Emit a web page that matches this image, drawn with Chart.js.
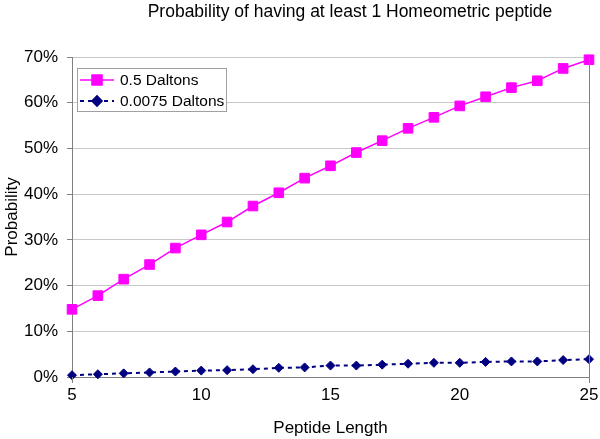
<!DOCTYPE html>
<html>
<head>
<meta charset="utf-8">
<script src="https://cdn.jsdelivr.net/npm/chart.js@4"></script>
<style>
  html, body { margin: 0; padding: 0; background: #fff; }
  #wrap { width: 600px; height: 439px; }
</style>
</head>
<body>
<div id="wrap"><canvas id="probChart" width="600" height="439"></canvas></div>
<script>
// Peptide length (x) and probability in percent (y)
const peptideLengths = [5, 6, 7, 8, 9, 10, 11, 12, 13, 14, 15, 16, 17, 18, 19, 20, 21, 22, 23, 24, 25];
const halfDalton = [14.8, 17.8, 21.4, 24.6, 28.2, 31.1, 33.9, 37.4, 40.3, 43.5, 46.2, 49.1, 51.7, 54.4, 56.8, 59.3, 61.3, 63.3, 64.8, 67.5, 69.4];
const smallDalton = [0.4, 0.6, 0.8, 1.0, 1.2, 1.4, 1.5, 1.7, 2.0, 2.1, 2.5, 2.5, 2.7, 2.9, 3.1, 3.1, 3.3, 3.4, 3.4, 3.7, 3.9];
const seriesNames = ['0.5 Daltons', '0.0075 Daltons'];
const yTicks = [0, 10, 20, 30, 40, 50, 60, 70];
const xTicks = [5, 10, 15, 20, 25];
const chartTitle = 'Probability of having at least 1 Homeometric peptide';

const FONT = "Arial, 'Liberation Sans', sans-serif";

// Title, right border, and the small legend box in the top-left corner
const extras = {
    id: 'extras',
    afterDraw(chart) {
        const ctx = chart.ctx;
        const area = chart.chartArea;
        ctx.save();

        // title
        ctx.fillStyle = '#000';
        ctx.font = '17.5px ' + FONT;
        ctx.textAlign = 'center';
        ctx.textBaseline = 'alphabetic';
        ctx.fillText(chartTitle, 350, 17);

        // right side of the plot frame + end tick marks
        ctx.strokeStyle = '#808080';
        ctx.lineWidth = 1;
        ctx.beginPath();
        ctx.moveTo(Math.round(area.right) + 0.5, area.top);
        ctx.lineTo(Math.round(area.right) + 0.5, area.bottom + 6);
        ctx.moveTo(Math.round(area.left) + 0.5, area.bottom);
        ctx.lineTo(Math.round(area.left) + 0.5, area.bottom + 6);
        ctx.stroke();

        // legend
        const bx = 77, by = 68, bw = 149, bh = 43;
        ctx.fillStyle = '#fff';
        ctx.fillRect(bx, by, bw, bh);
        ctx.strokeStyle = '#a0a0a0';
        ctx.strokeRect(bx + 0.5, by + 0.5, bw, bh);

        const rowsY = [80, 101];
        chart.data.datasets.forEach((ds, i) => {
            const y = rowsY[i];
            ctx.strokeStyle = ds.borderColor;
            ctx.lineWidth = ds.borderWidth;
            ctx.setLineDash(ds.borderDash || []);
            ctx.beginPath();
            ctx.moveTo(80, y);
            ctx.lineTo(114, y);
            ctx.stroke();
            ctx.setLineDash([]);
            Chart.helpers.drawPoint(ctx, {
                pointStyle: ds.pointStyle,
                radius: ds.pointRadius,
                borderWidth: 1,
                rotation: 0
            }, 97, y);
            ctx.fillStyle = ds.pointBackgroundColor;
            ctx.strokeStyle = ds.pointBorderColor;
            ctx.fill();
            ctx.stroke();

            ctx.fillStyle = '#000';
            ctx.font = '15.5px ' + FONT;
            ctx.textAlign = 'left';
            ctx.textBaseline = 'middle';
            ctx.fillText(ds.label, 120, y + 1);
        });
        ctx.restore();
    }
};

new Chart(document.getElementById('probChart'), {
    type: 'line',
    data: {
        datasets: [{
            label: seriesNames[0],
            data: peptideLengths.map((x, i) => ({ x: x, y: halfDalton[i] })),
            borderColor: '#ff00ff',
            backgroundColor: '#ff00ff',
            borderWidth: 1.5,
            pointStyle: 'rect',
            pointRadius: 6.8,
            pointBackgroundColor: '#ff00ff',
            pointBorderColor: '#ff00ff',
            pointBorderWidth: 1,
            tension: 0,
            clip: false
        }, {
            label: seriesNames[1],
            data: peptideLengths.map((x, i) => ({ x: x, y: smallDalton[i] })),
            borderColor: '#000080',
            backgroundColor: '#000080',
            borderWidth: 2,
            borderDash: [4, 4],
            pointStyle: 'rectRot',
            pointRadius: 4.5,
            pointBackgroundColor: '#000080',
            pointBorderColor: '#000080',
            pointBorderWidth: 1,
            tension: 0,
            clip: false
        }]
    },
    options: {
        responsive: false,
        animation: false,
        devicePixelRatio: 1,
        layout: { padding: { top: 57, right: 0, left: 0, bottom: 0 } },
        plugins: {
            legend: { display: false },
            title: { display: false },
            tooltip: { enabled: false }
        },
        scales: {
            x: {
                type: 'linear',
                min: 5,
                max: 25,
                afterBuildTicks: (s) => { s.ticks = xTicks.map(v => ({ value: v })); },
                afterFit: (s) => { s.height = 62; s.paddingLeft = 0; s.paddingRight = 11; },
                grid: { display: true, drawOnChartArea: false, drawTicks: false },
                border: { display: true, color: '#808080', width: 1 },
                ticks: {
                    color: '#000',
                    padding: 8,
                    maxRotation: 0,
                    font: { family: FONT, size: 17 }
                },
                title: {
                    display: true,
                    text: 'Peptide Length',
                    color: '#000',
                    padding: { top: 0, bottom: 0 },
                    font: { family: FONT, size: 17 }
                }
            },
            y: {
                min: 0,
                max: 70,
                afterBuildTicks: (s) => { s.ticks = yTicks.map(v => ({ value: v })); },
                afterFit: (s) => { s.width = 72; },
                grid: { color: '#c8c8c8', lineWidth: 1, drawTicks: true, tickLength: 5, tickColor: '#808080' },
                border: { display: true, color: '#808080', width: 1 },
                ticks: {
                    color: '#000',
                    padding: 9,
                    font: { family: FONT, size: 17 },
                    callback: (v) => v + '%'
                },
                title: {
                    display: true,
                    text: 'Probability',
                    color: '#000',
                    padding: { top: 2, bottom: 0 },
                    font: { family: FONT, size: 17 }
                }
            }
        }
    },
    plugins: [extras]
});
</script>
</body>
</html>
